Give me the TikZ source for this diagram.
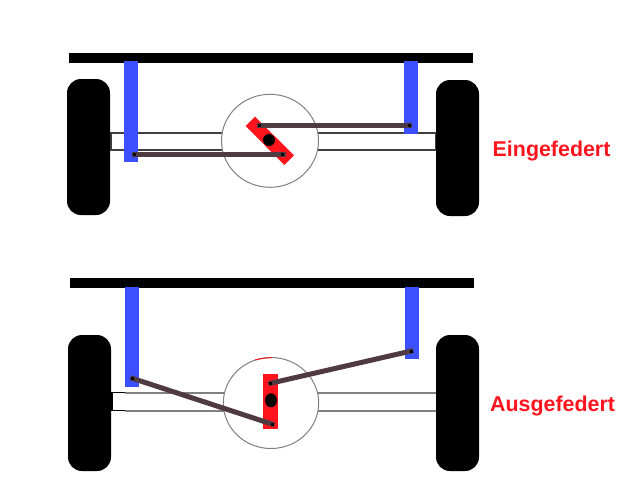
\documentclass[tikz,border=0pt]{standalone}
\usepackage{fontspec}
\setmainfont{Liberation Sans}
\definecolor{strutblue}{RGB}{60,80,255}
\definecolor{leverred}{RGB}{255,20,30}
\definecolor{linkbrown}{RGB}{78,58,64}
\newcommand{\wheel}[2]{\fill[black,rounded corners=14pt] (#1,#2) rectangle ++(43,136);}
\newcommand{\pivotdot}[1]{\fill[black] ($(#1)+(-1.5,-1.5)$) rectangle ($(#1)+(1.5,1.5)$);}
\usetikzlibrary{calc}
\tikzset{
  link/.style={draw=linkbrown,line width=5pt},
  tube/.style={line width=2pt},
  hub/.style={draw=black!50,fill=white,line width=1pt},
  caption/.style={anchor=base west,inner sep=0pt,text=leverred,font=\fontsize{21.4pt}{24pt}\selectfont\bfseries}
}

\begin{document}
\begin{tikzpicture}[x=1pt,y=-1pt]
\useasboundingbox (0,0) rectangle (640,480);
% upper state
\draw[tube,black!75] (111,132.5) rectangle (435.5,150);
\fill[black] (69,53) rectangle (473,62.5);
\fill[strutblue] (124,61) rectangle (138,162);
\fill[strutblue] (404,61) rectangle (418,134);
\wheel{67}{79}
\wheel{436}{80}
\draw[hub] (270,140.8) ellipse[x radius=48.5,y radius=46.5];
\fill[leverred] (255,116.7)--(245.7,126)--(284.3,165)--(294,155.3)--cycle;
\fill[black] (269,140) circle[radius=6];
\coordinate (a1) at (259,125.3);
\coordinate (a2) at (409.5,125.3);
\coordinate (b1) at (282.5,154.5);
\coordinate (b2) at (134.3,154.5);
\draw[link] ($(a1)+(-2,0)$) -- ($(a2)+(2,0)$);
\draw[link] ($(b1)+(3,0)$) -- ($(b2)+(-2,0)$);
\pivotdot{a1}
\pivotdot{a2}
\pivotdot{b1}
\pivotdot{b2}
\node[caption] (eingefedert) at (492.5,156) {Eingefedert};
% lower state
\draw[tube,black!50] (125,392.5) -- (436,392.5);
\draw[tube,black!50] (125,410.5) -- (436,410.5);
\draw[line width=1.3pt,black] (125,392.5) -- (112,392.5) -- (112,410.5) -- (125,410.5);
\fill[black] (70,278) rectangle (474,288);
\fill[strutblue] (125,287) rectangle (139,387);
\fill[strutblue] (405,287) rectangle (419,359);
\wheel{68}{335}
\wheel{436}{335}
\draw[hub] (271,403) ellipse[x radius=47.7,y radius=45.5];
\draw[leverred,line width=1pt] (255,360) .. controls (260,358.6) and (266,357.8) .. (272,357.6);
\fill[leverred] (263,374) rectangle (278,429);
\fill[black] (271,400.3) ellipse[x radius=6,y radius=7];
\coordinate (c1) at (132.3,378.3);
\coordinate (c2) at (272.7,424.3);
\coordinate (d1) at (270.3,383.3);
\coordinate (d2) at (411.3,351);
\draw[link] ($(c1)!-2pt!(c2)$) -- ($(c2)!-2pt!(c1)$);
\draw[link] ($(d1)!-2pt!(d2)$) -- ($(d2)!-2pt!(d1)$);
\pivotdot{c1}
\pivotdot{c2}
\pivotdot{d1}
\pivotdot{d2}
\node[caption] (ausgefedert) at (490,411) {Ausgefedert};
\end{tikzpicture}
\end{document}
